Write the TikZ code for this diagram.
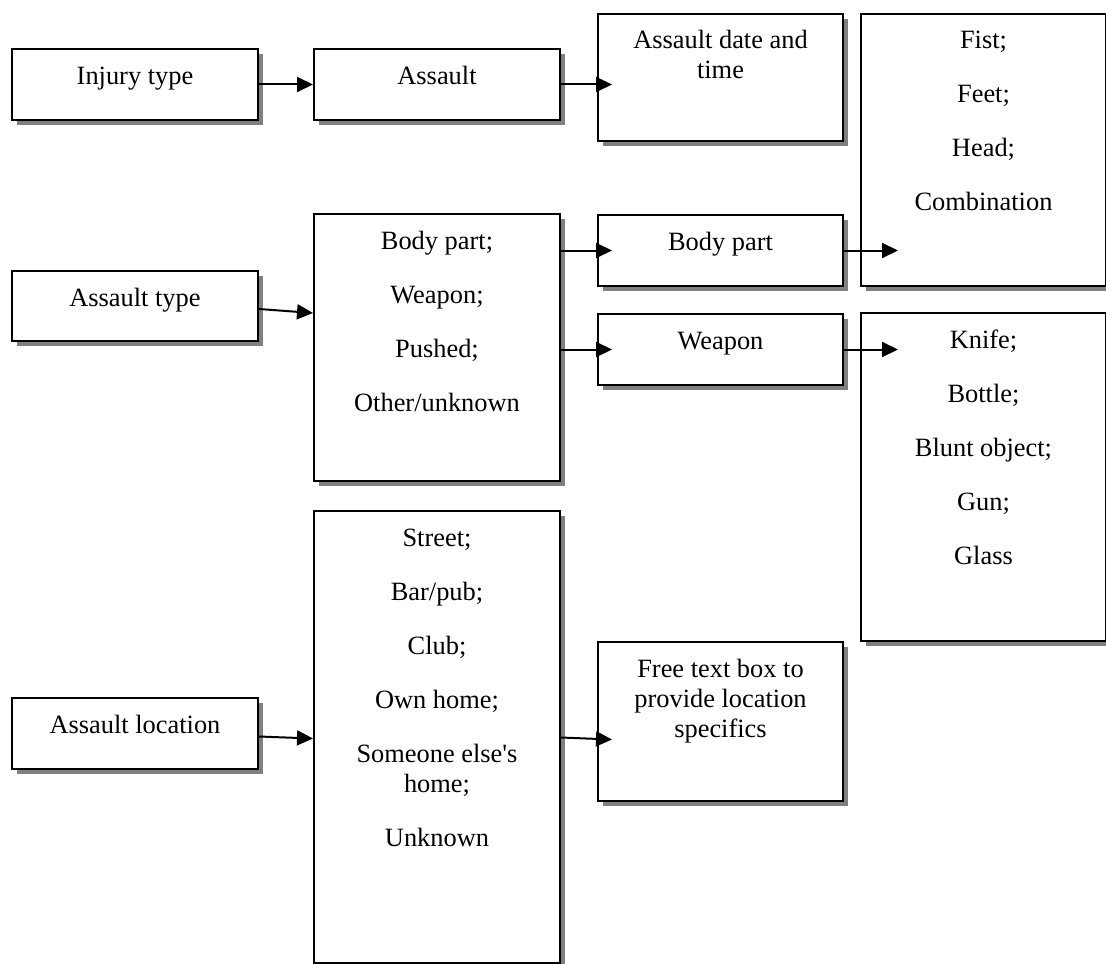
\documentclass[tikz,border=0pt]{standalone}
\usepackage{fontspec}
\setmainfont{Liberation Serif}
\usetikzlibrary{arrows.meta}
\definecolor{shadowgray}{RGB}{128,128,128}
\newlength\unitpx
\setlength\unitpx{0.5pt}
% box with drop shadow: name, x, y, width, height, text
\newcommand\flowbox[6]{%
  \fill[shadowgray] (#2+6,#3+6) rectangle ++(#4,#5);
  \node[flowbox] (#1) at (#2,#3)
    {\parbox[t][#5\unitpx][t]{#4\unitpx}{\centering\rule{0pt}{17.5pt}#6}};
}
\tikzset{
  flowbox/.style={draw, fill=white, line width=1pt, anchor=north west, inner sep=0pt},
  link/.style={line width=1pt, -{Triangle[length=8pt,width=7.5pt]}}
}

\begin{document}
\begin{tikzpicture}[x=0.5pt, y=-0.5pt, font=\fontsize{13.2}{15}\selectfont]
		\useasboundingbox (0,0) rectangle (1106,963);
		%%%%% START %%%%%
		\flowbox{injury}{11}{48}{246}{71}{Injury type}
		\flowbox{assault}{313}{48}{246}{71}{Assault}
		\flowbox{datetime}{597}{13}{245}{127}{Assault date and\\time}
		\flowbox{fist}{860}{13}{245}{272}{Fist;\\[12pt]Feet;\\[12pt]Head;\\[12pt]Combination}
		
		\flowbox{atype}{11}{270}{246}{70}{Assault type}
		\flowbox{tlist}{313}{213}{246}{267}{Body part;\\[12pt]Weapon;\\[12pt]Pushed;\\[12pt]Other/unknown}
		\flowbox{bodypart}{597}{214}{245}{71}{Body part}
		\flowbox{weapon}{597}{313}{245}{71}{Weapon}
		\flowbox{wlist}{860}{312}{245}{328}{Knife;\\[12pt]Bottle;\\[12pt]Blunt object;\\[12pt]Gun;\\[12pt]Glass}
		
		\flowbox{aloc}{11}{697}{246}{71}{Assault location}
		\flowbox{llist}{313}{510}{246}{452}{Street;\\[12pt]Bar/pub;\\[12pt]Club;\\[12pt]Own home;\\[12pt]Someone else\textquotesingle s\\home;\\[12pt]Unknown}
		\flowbox{freetext}{597}{641}{245}{159}{Free text box to\\provide location\\specifics}
		
		\draw[link] (injury.east) -- (injury.east -| assault.west);
		\draw[link] (assault.east) -- ([xshift=7.5pt]assault.east -| datetime.west);
		
		\draw[link] ([yshift=-1.5pt]atype.east) -- ([yshift=-3.5pt]atype.east -| tlist.west);
		\draw[link] (bodypart.west -| tlist.east) -- ([xshift=7.5pt]bodypart.west);
		\draw[link] (weapon.west -| tlist.east) -- ([xshift=7.5pt]weapon.west);
		\draw[link] (bodypart.east) -- ([xshift=19pt]bodypart.east -| fist.west);
		\draw[link] (weapon.east) -- ([xshift=19pt]weapon.east -| wlist.west);
		
		\draw[link] ([yshift=-1.5pt]aloc.east) -- ([yshift=-2.5pt]aloc.east -| llist.west);
		\draw[link] ([yshift=-2pt]aloc.east -| llist.east) -- ([xshift=7.5pt,yshift=-3pt]aloc.east -| freetext.west);
		%%%%% END %%%%%
\end{tikzpicture}
\end{document}
